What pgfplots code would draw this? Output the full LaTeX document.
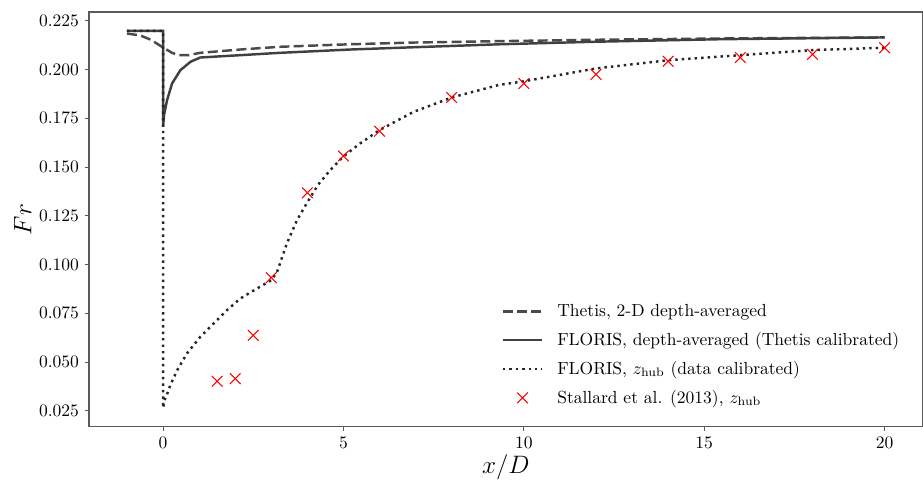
\documentclass[border=0pt]{standalone}
\usepackage{pgfplots}
\pgfplotsset{compat=1.18}

\definecolor{curvegray}{HTML}{404040}
\definecolor{dashgray}{HTML}{4A4A4A}
\definecolor{framegray}{HTML}{5A5A5A}

\begin{document}
\begin{tikzpicture}
\path[use as bounding box] (-50.9pt,-31.7pt) rectangle (476.3pt,243.8pt);
\begin{axis}[
  scale only axis,
  width=476pt, height=236.9pt,
  xmin=-2.05, xmax=21.05,
  ymin=0.0168, ymax=0.2295,
  axis line style={framegray, line width=0.7pt},
  tick align=outside,
  xtick pos=lower, ytick pos=left,
  major tick length=2.3pt,
  tick style={framegray, line width=0.6pt},
  xtick={0,5,10,15,20},
  ytick={0.025,0.050,0.075,0.100,0.125,0.150,0.175,0.200,0.225},
  yticklabel style={/pgf/number format/fixed, /pgf/number format/fixed zerofill, /pgf/number format/precision=3},
  scaled y ticks=false,
  ticklabel style={font=\normalsize},
  xlabel={$x/D$}, ylabel={$Fr$},
  label style={font=\fontsize{14}{16}\selectfont},
  xlabel style={at={(axis description cs:0.5,-0.0977)}, anchor=center},
  ylabel style={at={(axis description cs:-0.0795,0.5)}, anchor=center, rotate=0},
  legend cell align=left,
  legend style={draw=none, fill=none, at={(0.488,0.311)}, anchor=north west,
    font=\normalsize, row sep=4.5pt, nodes={inner sep=1.5pt}},
  legend image code/.code={\draw[mark repeat=2, mark phase=2, #1] plot coordinates {(0cm,0cm) (0.4cm,0cm) (0.8cm,0cm)}; \path (1.02cm,0cm);},
]
% Thetis 2-D depth-averaged solution
\addplot[dashgray, line width=1.4pt, dash pattern=on 5.7pt off 2.5pt] coordinates {
  (-1.00,0.2185) (-0.63,0.2175) (-0.35,0.2154) (-0.03,0.2117) (0.25,0.2086)
  (0.43,0.2074) (0.71,0.2074) (1.03,0.2086) (2.14,0.2103) (3.24,0.2117)
  (5.19,0.2130) (7.00,0.2139) (9.35,0.2146) (12.0,0.2153) (15.7,0.2160) (20.0,0.2165)
};
\addlegendentry{Thetis, 2-D depth-averaged}
% FLORIS, depth-averaged, calibrated against Thetis
\addplot[curvegray, line width=1.4pt] coordinates {
  (-1.00,0.2199) (0.00,0.2199) (0.00,0.1706) (0.03,0.1770) (0.11,0.1843)
  (0.25,0.1929) (0.48,0.1997) (0.76,0.2040) (1.03,0.2062) (2.14,0.2074)
  (3.24,0.2086) (5.19,0.2103) (7.00,0.2115) (9.35,0.2130) (12.0,0.2143)
  (15.5,0.2156) (20.0,0.2165)
};
\addlegendentry{FLORIS, depth-averaged (Thetis calibrated)}
% FLORIS at hub height, calibrated against measurements
\addplot[black!85, line width=1.4pt, dash pattern=on 1.4pt off 2.3pt] coordinates {
  (-1.00,0.2199) (0.00,0.2199) (0.00,0.0265) (0.05,0.0310) (0.11,0.0335)
  (0.20,0.0381) (0.39,0.0458) (0.66,0.0544) (1.03,0.0629) (1.40,0.0698)
  (1.77,0.0766) (2.14,0.0826) (2.60,0.0877) (3.00,0.0920) (3.16,0.0962)
  (3.43,0.1108) (3.71,0.1227) (4.00,0.1320) (4.30,0.1410) (4.63,0.1484)
  (5.00,0.1555) (5.46,0.1621) (6.00,0.1690) (6.94,0.1783) (8.00,0.1857)
  (9.30,0.1921) (10.0,0.1940) (12.0,0.2006) (14.0,0.2048) (16.0,0.2074)
  (18.0,0.2100) (20.0,0.2112)
};
\addlegendentry{FLORIS, $z_{\mathrm{hub}}$ (data calibrated)}
% Stallard et al. (2013) measurements at hub height
\addplot[only marks, mark=x, mark size=4.3pt, red, mark options={line width=0.6pt}] coordinates {
  (1.5,0.0402) (2.0,0.0415) (2.5,0.0637) (3.0,0.0933) (4.0,0.1368)
  (5.0,0.1557) (6.0,0.1684) (8.0,0.1857) (10.0,0.1929) (12.0,0.1975)
  (14.0,0.2043) (16.0,0.2062) (18.0,0.2078) (20.0,0.2112)
};
\addlegendentry{Stallard et al. (2013), $z_{\mathrm{hub}}$}
\end{axis}
\end{tikzpicture}
\end{document}
